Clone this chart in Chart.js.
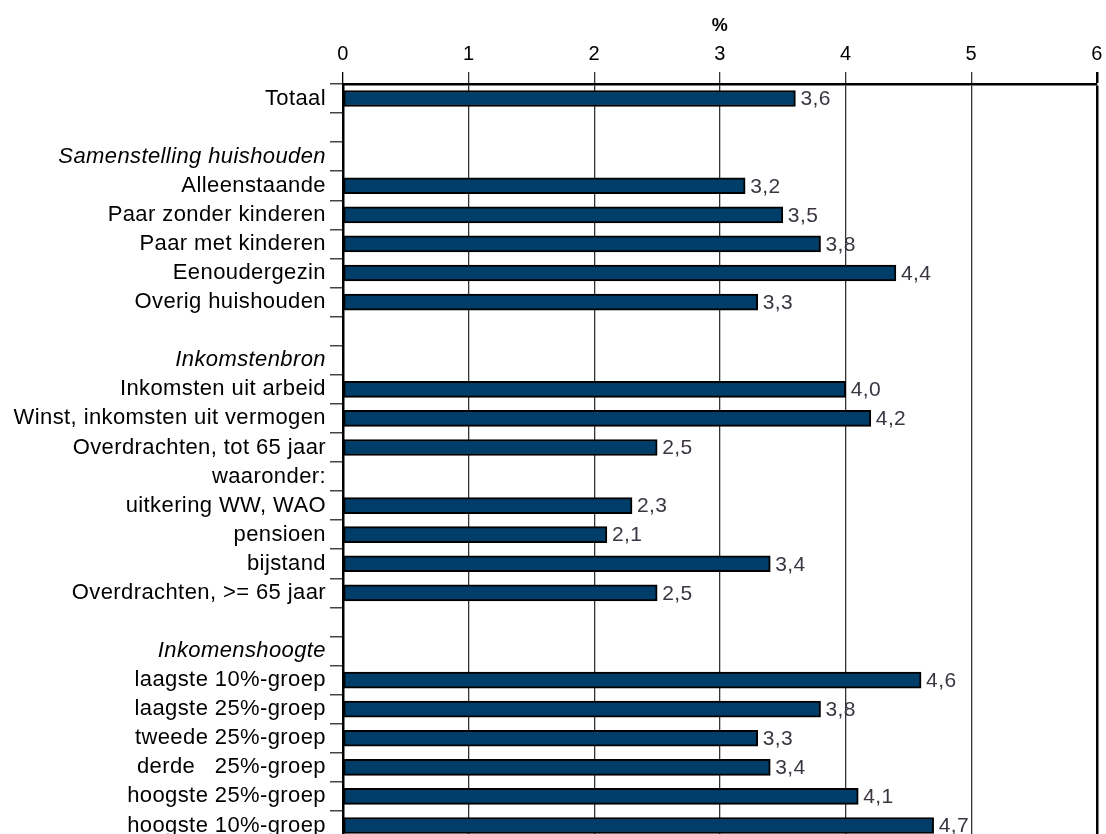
<!DOCTYPE html>
<html>
<head>
<meta charset="utf-8">
<script src="https://cdn.jsdelivr.net/npm/chart.js@4/dist/chart.umd.min.js"></script>
<style>
  html, body { margin: 0; padding: 0; background: #fff; overflow: hidden; }
  #wrap { width: 1106px; height: 840px; }
</style>
</head>
<body>
<div id="wrap"><canvas id="c" width="1106" height="840"></canvas></div>
<script>
// Rows of the chart, top to bottom ('' = spacer row)
const categories = [
  'Totaal', '',
  'Samenstelling huishouden', 'Alleenstaande', 'Paar zonder kinderen', 'Paar met kinderen',
  'Eenoudergezin', 'Overig huishouden', '',
  'Inkomstenbron', 'Inkomsten uit arbeid', 'Winst, inkomsten uit vermogen',
  'Overdrachten, tot 65 jaar', 'waaronder:', 'uitkering WW, WAO', 'pensioen', 'bijstand',
  'Overdrachten, >= 65 jaar', '',
  'Inkomenshoogte', 'laagste 10%-groep', 'laagste 25%-groep', 'tweede 25%-groep',
  'derde   25%-groep', 'hoogste 25%-groep', 'hoogste 10%-groep'
];
// Group headings shown in italics
const headings = ['Samenstelling huishouden', 'Inkomstenbron', 'Inkomenshoogte'];
// Percentages per row (null = no bar)
const values = [
  3.6, null,
  null, 3.2, 3.5, 3.8, 4.4, 3.3, null,
  null, 4.0, 4.2, 2.5, null, 2.3, 2.1, 3.4, 2.5, null,
  null, 4.6, 3.8, 3.3, 3.4, 4.1, 4.7
];
const xTicks = [0, 1, 2, 3, 4, 5, 6];
const axisTitle = '%';

const FONT = 'Liberation Sans, Arial, sans-serif';
const fmt = v => v.toFixed(1).replace('.', ',');

// Slightly wider text tracking for all chart text
const tracking = {
  id: 'tracking',
  beforeDraw(chart) { chart.ctx.letterSpacing = '0.4px'; }
};

const valueLabels = {
  id: 'valueLabels',
  afterDatasetsDraw(chart) {
    const ctx = chart.ctx;
    const meta = chart.getDatasetMeta(0);
    ctx.save();
    ctx.font = '21px ' + FONT;
    ctx.fillStyle = '#3b3541';
    ctx.textAlign = 'left';
    ctx.textBaseline = 'middle';
    meta.data.forEach((bar, i) => {
      const v = values[i];
      if (v === null || v === undefined) return;
      ctx.fillText(fmt(v), bar.x + 5, bar.y + 1);
    });
    ctx.restore();
  }
};

new Chart(document.getElementById('c'), {
  type: 'bar',
  data: {
    labels: categories,
    datasets: [{
      data: values,
      backgroundColor: '#003d69',
      borderColor: '#000',
      borderWidth: 2,
      borderSkipped: false,
      barThickness: 16
    }]
  },
  plugins: [tracking, valueLabels],
  options: {
    indexAxis: 'y',
    responsive: false,
    animation: false,
    devicePixelRatio: 1,
    layout: { padding: { left: 0, right: 9, top: 0, bottom: 0 } },
    plugins: { legend: { display: false }, tooltip: { enabled: false } },
    scales: {
      x: {
        position: 'top',
        min: 0,
        max: 6,
        afterBuildTicks(scale) { scale.ticks = xTicks.map(v => ({ value: v })); },
        afterFit(scale) {
          scale.height = 84;
          scale.paddingLeft = 0;
          scale.paddingRight = 0;
        },
        title: {
          display: true,
          text: axisTitle,
          color: '#000',
          font: { family: FONT, size: 18, weight: 'bold' },
          padding: { top: 15, bottom: 0 }
        },
        ticks: {
          color: '#000',
          font: { family: FONT, size: 20 },
          padding: 6,
          maxRotation: 0
        },
        grid: {
          color: ctx => (ctx.tick && (ctx.tick.value === 0 || ctx.tick.value === 6)) ? '#000' : '#333',
          lineWidth: ctx => (ctx.tick && ctx.tick.value === 6) ? 2.5 : 1.3,
          tickLength: 12
        },
        border: { display: true, color: '#000', width: 2.5 }
      },
      y: {
        afterFit(scale) {
          scale.width = 343;
          scale.paddingTop = 0;
          scale.paddingBottom = 0;
        },
        ticks: {
          color: '#000',
          padding: 4,
          autoSkip: false,
          font: ctx => ({
            family: FONT,
            size: 22,
            style: headings.includes(categories[ctx.index]) ? 'italic' : 'normal'
          })
        },
        grid: {
          offset: true,
          drawOnChartArea: false,
          tickLength: 13,
          color: '#444',
          lineWidth: 1.5
        },
        border: { display: true, color: '#000', width: 2.5 }
      }
    }
  }
});
</script>
</body>
</html>
